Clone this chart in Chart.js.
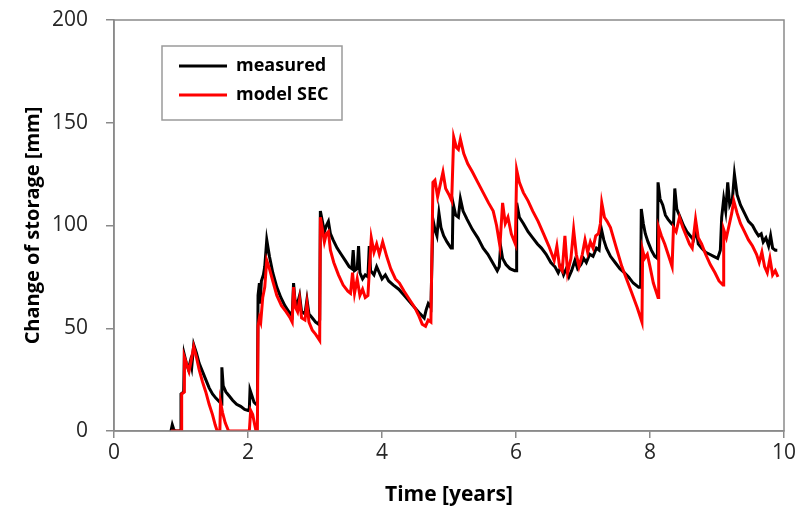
<!DOCTYPE html>
<html><head><meta charset="utf-8">
<script src="https://cdn.jsdelivr.net/npm/chart.js@4.4.0/dist/chart.umd.min.js"></script>
<style>html,body{margin:0;padding:0;background:#fff}#wrap{width:805px;height:513px}</style>
</head><body><div id="wrap"><canvas id="c" width="805" height="513"></canvas></div>
<script>
const seriesNames = ["measured", "model SEC"];
const seriesColors = ["#000000", "#ff0000"];
const xTitle = "Time [years]";
const yTitle = "Change of storage [mm]";
const xTicks = [0, 2, 4, 6, 8, 10];
const yTicks = [0, 50, 100, 150, 200];

const measuredTime = [
0.85,0.87,0.89,0.91,1.00,1.00,1.04,1.05,1.08,1.11,
1.14,1.16,1.19,1.23,1.27,1.32,1.37,1.42,1.47,1.52,
1.58,1.60,1.61,1.63,1.67,1.72,1.77,1.83,1.89,1.95,
2.00,2.02,2.03,2.06,2.09,2.12,2.14,2.15,2.17,2.18,
2.20,2.23,2.25,2.28,2.32,2.37,2.43,2.49,2.55,2.61,
2.66,2.68,2.70,2.73,2.77,2.80,2.85,2.88,2.91,2.96,
3.01,3.05,3.07,3.08,3.11,3.14,3.17,3.20,3.23,3.27,
3.33,3.39,3.45,3.51,3.55,3.57,3.59,3.63,3.65,3.67,
3.71,3.75,3.79,3.81,3.83,3.88,3.92,3.96,4.00,4.05,
4.10,4.17,4.25,4.33,4.41,4.49,4.57,4.63,4.66,4.69,
4.73,4.76,4.79,4.82,4.85,4.88,4.92,4.97,5.03,5.05,
5.06,5.10,5.14,5.17,5.21,5.27,5.35,5.43,5.51,5.58,
5.65,5.72,5.75,5.77,5.80,5.85,5.91,5.98,6.00,6.01,
6.05,6.11,6.18,6.25,6.32,6.38,6.45,6.52,6.58,6.63,
6.67,6.71,6.75,6.79,6.83,6.88,6.92,6.97,7.01,7.05,
7.10,7.15,7.20,7.24,7.27,7.31,7.35,7.41,7.48,7.55,
7.62,7.68,7.75,7.83,7.86,7.87,7.90,7.93,7.97,8.02,
8.07,8.11,8.12,8.15,8.19,8.23,8.27,8.32,8.35,8.37,
8.40,8.45,8.50,8.55,8.60,8.65,8.69,8.72,8.77,8.83,
8.89,8.95,9.01,9.05,9.07,9.10,9.13,9.16,9.19,9.23,
9.26,9.30,9.35,9.41,9.47,9.53,9.58,9.62,9.66,9.69,
9.73,9.77,9.80,9.83,9.87,9.90];
const measuredValue = [
0,3,1,0,0,18,19,37,33,30,
34,31,42,38,33,29,25,21,18,16,
14,13,31,22,19,17,15,13,12,10.5,
10,11,20,17,14,13,13,66,72,62,
73,76,80,93,85,77,70,65,61,58,
56,72,64,61,66,58,57,64,57,55,
53,52,54,107,102,97,100,102,96,93,
89,86,83,80,79,88,78,79,90,77,
74,76,75,90,78,76,80,77,74,76,
73,71,69,66,63,60,57,55,59,62,
60,103,98,95,106,99,95,92,89,89,
111,105,104,113,107,103,98,94,89,86,
82,78,80,90,84,81,79,78,78,111,
104,101,97,94,91,89,86,82,80,77,
80,76,79,75,78,83,79,81,84,82,
86,85,89,88,99,93,89,85,82,79,
77,75,72,70,70,108,101,96,92,88,
85,84,121,113,110,105,103,101,100,118,
108,104,100,97,95,93,98,91,89,87,
86,85,84,88,104,113,107,121,110,113,
125,115,110,106,102,100,97,95,96,92,
94,90,95,89,88,88];

const modelTime = [
0.85,1.01,1.01,1.05,1.05,1.09,1.12,1.15,1.19,1.23,
1.27,1.32,1.37,1.42,1.47,1.51,1.54,1.58,1.59,1.62,
1.66,1.71,2.02,2.04,2.07,2.10,2.12,2.14,2.15,2.17,
2.19,2.22,2.25,2.28,2.32,2.37,2.43,2.50,2.57,2.63,
2.66,2.68,2.71,2.74,2.77,2.80,2.85,2.88,2.91,2.96,
3.01,3.05,3.07,3.08,3.11,3.14,3.17,3.20,3.23,3.28,
3.35,3.42,3.49,3.53,3.56,3.59,3.63,3.67,3.71,3.75,
3.79,3.84,3.88,3.92,3.96,4.01,4.07,4.13,4.20,4.26,
4.33,4.41,4.49,4.55,4.60,4.65,4.69,4.73,4.76,4.79,
4.83,4.87,4.91,4.95,5.00,5.04,5.07,5.11,5.14,5.17,
5.22,5.28,5.35,5.43,5.51,5.59,5.66,5.71,5.76,5.80,
5.84,5.88,5.93,5.99,6.01,6.05,6.11,6.18,6.25,6.33,
6.41,6.49,6.57,6.61,6.65,6.69,6.73,6.77,6.82,6.86,
6.90,6.94,6.99,7.03,7.07,7.11,7.15,7.19,7.23,7.26,
7.28,7.32,7.36,7.41,7.49,7.58,7.65,7.73,7.81,7.88,
7.89,7.92,7.96,8.00,8.05,8.09,8.12,8.13,8.17,8.22,
8.27,8.33,8.35,8.39,8.44,8.49,8.54,8.59,8.63,8.68,
8.72,8.77,8.83,8.90,8.97,9.03,9.09,9.10,9.14,9.18,
9.22,9.25,9.30,9.35,9.41,9.47,9.53,9.59,9.63,9.67,
9.71,9.75,9.79,9.83,9.87,9.91];
const modelValue = [
0,0,18,19,36,32,29,34,41,36,
30,24,19,13,8,3,0,0,14,9,
4,0,0,10,8,3,0,0,51,55,
53,65,70,83,79,73,66,61,58,55,
53,70,60,58,64,55,54,62,53,49,
47,45,44,104,98,92,96,97,88,82,
76,71,68,67,77,67,74,66,69,65,
66,94,87,91,86,92,85,79,74,72,
68,64,60,56,52,51,54,53,121,122,
114,120,126,118,115,112,143,138,137,142,
135,130,126,121,116,111,107,100,90,111,
101,104,96,91,127,121,116,112,107,102,
96,90,83,90,80,78,95,77,84,98,
86,80,86,93,87,92,89,95,96,101,
111,104,102,99,90,80,74,67,60,53,
88,84,86,80,72,68,65,99,95,91,
86,80,99,97,104,99,95,91,89,103,
94,91,86,81,77,73,71,98,94,100,
106,112,106,101,97,93,90,86,82,87,
80,77,84,76,78,75];

function zip(ts, vs) { return ts.map((t, i) => ({ x: t, y: vs[i] })); }

const AXIS_COLOR = "#8a8a8a";
const TICK_COLOR = "#262626";
const FONT = "'Open Sans', 'Noto Sans', sans-serif";

const frameAndLegend = {
  id: "frameAndLegend",
  afterDatasetsDraw(chart) {
    const ctx = chart.ctx, a = chart.chartArea;
    ctx.save();
    ctx.strokeStyle = AXIS_COLOR;
    ctx.lineWidth = 1.5;
    ctx.strokeRect(a.left, a.top, a.right - a.left, a.bottom - a.top);
    // legend box
    const bx = a.left + 48, by = a.top + 26, bw = 180, bh = 74;
    ctx.fillStyle = "#ffffff";
    ctx.fillRect(bx, by, bw, bh);
    ctx.strokeStyle = "#9a9a9a";
    ctx.lineWidth = 1.5;
    ctx.strokeRect(bx, by, bw, bh);
    ctx.font = "bold 18px " + FONT;
    ctx.textBaseline = "middle";
    ctx.textAlign = "left";
    seriesNames.forEach((name, i) => {
      const y = by + 20 + i * 29;
      ctx.strokeStyle = seriesColors[i];
      ctx.lineWidth = 3;
      ctx.beginPath();
      ctx.moveTo(bx + 17, y);
      ctx.lineTo(bx + 65, y);
      ctx.stroke();
      ctx.fillStyle = "#000";
      ctx.fillText(name, bx + 74, y);
    });
    ctx.restore();
  }
};

new Chart(document.getElementById("c"), {
  type: "line",
  data: {
    datasets: [
      { label: seriesNames[0], data: zip(measuredTime, measuredValue), borderColor: seriesColors[0],
        borderWidth: 3, pointRadius: 0, tension: 0, fill: false, order: 1 },
      { label: seriesNames[1], data: zip(modelTime, modelValue), borderColor: seriesColors[1],
        borderWidth: 3, pointRadius: 0, tension: 0, fill: false, order: 0 }
    ]
  },
  options: {
    responsive: false,
    animation: false,
    devicePixelRatio: 1,
    layout: { padding: { top: 20, right: 21, left: 0, bottom: 0 } },
    plugins: { legend: { display: false }, tooltip: { enabled: false }, title: { display: false } },
    scales: {
      x: {
        type: "linear", min: 0, max: 10,
        afterBuildTicks(s) { s.ticks = xTicks.map(v => ({ value: v })); },
        afterFit(s) { s.height = 82; s.paddingLeft = 0; s.paddingRight = 0; },
        ticks: { color: TICK_COLOR, font: { family: FONT, size: 21 }, padding: 2, maxRotation: 0 },
        grid: { display: true, drawOnChartArea: false, drawTicks: true, tickLength: 7, color: AXIS_COLOR, lineWidth: 1.5 },
        border: { display: true, color: AXIS_COLOR, width: 1.5 },
        title: { display: true, text: xTitle, color: "#000", font: { family: FONT, size: 21, weight: "bold" }, padding: { top: 0, bottom: 5 } }
      },
      y: {
        type: "linear", min: 0, max: 200,
        afterBuildTicks(s) { s.ticks = yTicks.map(v => ({ value: v })); },
        afterFit(s) { s.width = 114; s.paddingTop = 0; s.paddingBottom = 0; },
        ticks: { color: TICK_COLOR, font: { family: FONT, size: 21 }, padding: 18 },
        grid: { display: true, drawOnChartArea: false, drawTicks: true, tickLength: 8, color: AXIS_COLOR, lineWidth: 1.5 },
        border: { display: true, color: AXIS_COLOR, width: 1.5 },
        title: { display: true, text: yTitle, color: "#000", font: { family: FONT, size: 20, weight: "bold" }, padding: { top: 21, bottom: 0 } }
      }
    }
  },
  plugins: [frameAndLegend]
});
</script>
</body></html>
